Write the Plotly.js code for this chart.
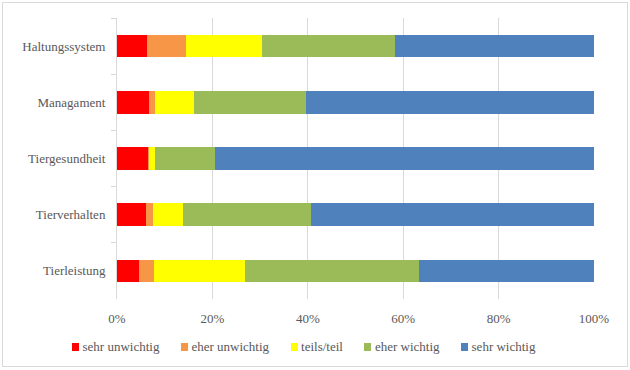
<!DOCTYPE html>
<html>
<head>
<meta charset="utf-8">
<script src="https://cdn.plot.ly/plotly-3.0.1.min.js"></script>
<style>
html,body{margin:0;padding:0;background:#fff;}
#wrap{position:relative;width:630px;height:370px;}
#legend{position:absolute;left:72px;top:339px;height:15px;display:flex;align-items:center;z-index:5;
  font-family:'Liberation Serif';font-size:13px;line-height:15px;color:#595959;white-space:nowrap;}
#legend .item{display:flex;align-items:center;margin-right:21.5px;}
#legend .sw{display:inline-block;width:7px;height:8px;margin-right:3.5px;}
#chart{position:absolute;left:0;top:0;width:630px;height:370px;}
#frame{position:absolute;left:2px;top:2px;width:624px;height:363px;border:1px solid #d9d9d9;pointer-events:none;z-index:6;}
</style>
</head>
<body>
<div id="wrap"><div id="legend"></div><div id="chart"></div><div id="frame"></div></div>
<script>
// Categories, top to bottom
const categories = ["Haltungssystem", "Managament", "Tiergesundheit", "Tierverhalten", "Tierleistung"];
// Series names (legend)
const seriesNames = ["sehr unwichtig", "eher unwichtig", "teils/teil", "eher wichtig", "sehr wichtig"];
// Shares (%) per category, same order as categories
const sehrUnwichtig  = [6.2, 6.7, 6.5, 6.1, 4.7];
const eherUnwichtig  = [8.2, 1.3, 0.2, 1.5, 3.1];
const teilsTeil      = [15.9, 8.2, 1.3, 6.3, 19.1];
const eherWichtig    = [28.0, 23.5, 12.6, 26.8, 36.5];
const sehrWichtig    = [41.7, 60.3, 79.4, 59.3, 36.6];
// x tick values and labels
const xTickValues = [0, 20, 40, 60, 80, 100];
const xTickLabels = ["0%", "20%", "40%", "60%", "80%", "100%"];

const colors = ["#FF0000", "#F79646", "#FFFF00", "#9BBB59", "#4F81BD"];
const seriesValues = [sehrUnwichtig, eherUnwichtig, teilsTeil, eherWichtig, sehrWichtig];

// Legend (Excel-style spacing), built from the series names and colours
const legendEl = document.getElementById("legend");
seriesNames.forEach((name, i) => {
  const item = document.createElement("span");
  item.className = "item";
  const sw = document.createElement("span");
  sw.className = "sw";
  sw.style.background = colors[i];
  const label = document.createElement("span");
  label.textContent = name;
  item.appendChild(sw);
  item.appendChild(label);
  legendEl.appendChild(item);
});

const mkFont = () => ({family: "Liberation Serif", size: 13, color: "#595959"});

function build() {
  const traces = seriesValues.map((vals, i) => ({
    type: "bar", orientation: "h",
    y: categories, x: vals, name: seriesNames[i],
    marker: {color: colors[i], line: {width: 0}},
    showlegend: false
  }));

  const layout = {
    width: 630, height: 370,
    margin: {l: 117, r: 36, t: 18, b: 71, pad: 0},
    paper_bgcolor: "rgba(0,0,0,0)", plot_bgcolor: "#ffffff",
    barmode: "stack", barnorm: "percent", bargap: 0.6,
    showlegend: false,
    xaxis: {
      range: [0, 100], tickmode: "array", tickvals: xTickValues, ticktext: xTickLabels,
      showgrid: true, gridcolor: "#d9d9d9", gridwidth: 1,
      zeroline: false, showline: false, ticks: "", fixedrange: true,
      ticklabelstandoff: 10, tickfont: mkFont()
    },
    yaxis: {
      type: "category", categoryorder: "array", categoryarray: categories,
      autorange: "reversed",
      showline: true, linecolor: "#d9d9d9", linewidth: 1,
      ticks: "outside", tickson: "boundaries", ticklen: 5, tickcolor: "#d9d9d9",
      showgrid: false, zeroline: false, ticklabelstandoff: 8,
      tickfont: mkFont()
    }
  };
  Plotly.react("chart", traces, layout, {displayModeBar: false, staticPlot: true});
}

build();
if (document.fonts && document.fonts.load) {
  document.fonts.load("13px 'Liberation Serif'").then(build, () => {});
}
</script>
</body>
</html>
